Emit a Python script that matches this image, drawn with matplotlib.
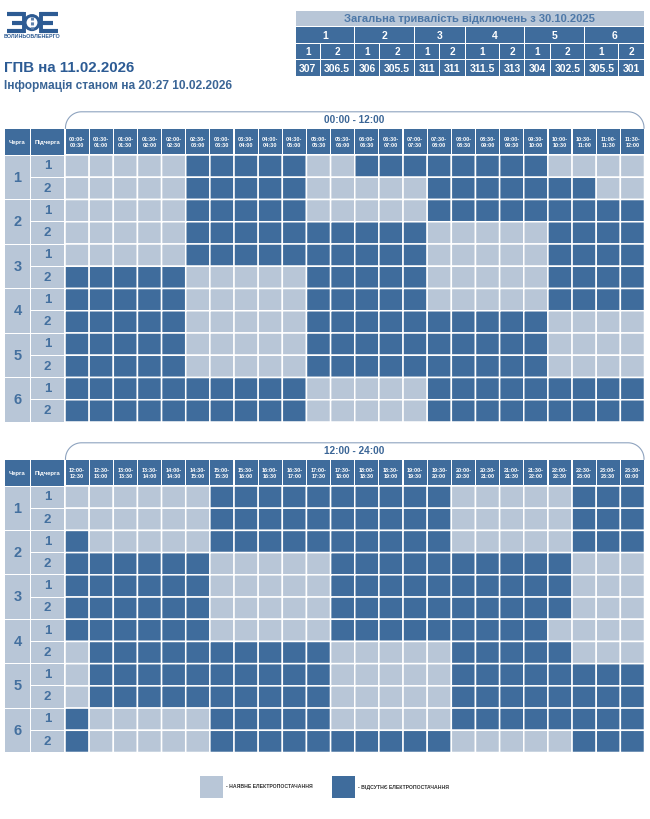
import matplotlib
matplotlib.use("Agg")
import numpy as np
import matplotlib.pyplot as plt
from matplotlib.colors import ListedColormap
from matplotlib.patches import Rectangle, Circle

plt.rcParams['font.family'] = ['Liberation Sans', 'DejaVu Sans']

DARK = '#3f6c9c'
LIGHT = '#b8c6d7'
TEXT = '#44709f'

# 0 = power on, 1 = power off, one string per subqueue, one digit per half hour
day_part1 = [
    "000001111100111111110000",
    "000001111100000111111100",
    "000001111100000111111111",
    "000001111111111000001111",
    "000001111111111000001111",
    "111110000011111000001111",
    "111110000011111000001111",
    "111110000011111111110000",
    "111110000011111111110000",
    "111110000011111111110000",
    "111111111100000111111111",
    "111111111100000111111111",
]
day_part2 = [
    "000000111111111100000111",
    "000000111111111100000111",
    "100000111111111100000111",
    "111111000001111111111000",
    "111111000001111111111000",
    "111111000001111111111000",
    "111111000001111111110000",
    "011111111110000011111000",
    "011111111110000011111111",
    "011111111110000011111111",
    "100000111110000011111111",
    "100000111111111100000111",
]

slots_part1 = ["00:00-\n00:30", "00:30-\n01:00", "01:00-\n01:30", "01:30-\n02:00", "02:00-\n02:30", "02:30-\n03:00",
               "03:00-\n03:30", "03:30-\n04:00", "04:00-\n04:30", "04:30-\n05:00", "05:00-\n05:30", "05:30-\n06:00",
               "06:00-\n06:30", "06:30-\n07:00", "07:00-\n07:30", "07:30-\n08:00", "08:00-\n08:30", "08:30-\n09:00",
               "09:00-\n09:30", "09:30-\n10:00", "10:00-\n10:30", "10:30-\n11:00", "11:00-\n11:30", "11:30-\n12:00"]
slots_part2 = ["12:00-\n12:30", "12:30-\n13:00", "13:00-\n13:30", "13:30-\n14:00", "14:00-\n14:30", "14:30-\n15:00",
               "15:00-\n15:30", "15:30-\n16:00", "16:00-\n16:30", "16:30-\n17:00", "17:00-\n17:30", "17:30-\n18:00",
               "18:00-\n18:30", "18:30-\n19:00", "19:00-\n19:30", "19:30-\n20:00", "20:00-\n20:30", "20:30-\n21:00",
               "21:00-\n21:30", "21:30-\n22:00", "22:00-\n22:30", "22:30-\n23:00", "23:00-\n23:30", "23:30-\n00:00"]

queues = ["1", "2", "3", "4", "5", "6"]
subqueues = ["1", "2"]
totals = ["307", "306.5", "306", "305.5", "311", "311", "311.5", "313", "304", "302.5", "305.5", "301"]

fig = plt.figure(figsize=(6.5, 8.19), dpi=100)
ax = fig.add_axes([0, 0, 1, 1])
ax.set_xlim(0, 650)
ax.set_ylim(819, 0)
ax.axis('off')


def box(x0, y0, x1, y1, color, label=None, size=8, tcolor='white', bold=True):
    ax.add_patch(Rectangle((x0, y0), x1 - x0, y1 - y0, fc=color, ec='none'))
    if label is not None:
        ax.text((x0 + x1) / 2, (y0 + y1) / 2 + 0.3, label, color=tcolor, fontsize=size,
                ha='center', va='center', fontweight='bold' if bold else 'normal', linespacing=1.25)


def draw_table(day, slots, title, top, head_bottom, bottom):
    # rounded bracket above the table
    bx0, bx1 = 65.5, 644
    by = top - 17.5
    r = 16
    t = np.linspace(0, np.pi / 2, 30)
    xs = np.r_[bx0 + r - r * np.cos(t), bx1 - r + r * np.sin(t)]
    ys = np.r_[by + r - r * np.sin(t), by + r - r * np.cos(t)]
    xs = np.r_[bx0, xs, bx1]
    ys = np.r_[top - 1, ys, top - 1]
    ax.plot(xs, ys, color='#8ea3bf', lw=0.8)
    ax.text(354.5, top - 9.5, title, color='#3a6596', fontsize=7.2, fontweight='bold', ha='center', va='center')

    # headers
    box(5.3, top, 29.6, head_bottom, DARK, "Черга", 4.2)
    box(31, top, 64.3, head_bottom, DARK, "Підчерга", 4.2)
    edges = np.linspace(65, 644.5, 25)
    for i, s in enumerate(slots):
        box(edges[i] + 0.6, top, edges[i + 1] - 0.6, head_bottom - 0.6, DARK, s, 4.0)

    # left columns, lined up with the rows of the schedule
    yedges = np.linspace(head_bottom, bottom, 13)
    for q, name in enumerate(queues):
        box(5.3, yedges[2 * q] + 0.5, 29.6, yedges[2 * q + 2] - 0.5, LIGHT, name, 10.5, TEXT)
        for s, sub in enumerate(subqueues):
            box(31, yedges[2 * q + s] + 0.5, 64.3, yedges[2 * q + s + 1] - 0.5, LIGHT, sub, 9.5, TEXT)

    # the schedule itself
    grid = np.array([[int(c) for c in row] for row in day])
    mesh = ax.pcolormesh(edges, yedges, grid, cmap=ListedColormap([LIGHT, DARK]), vmin=0, vmax=1,
                         edgecolors='white', linewidth=1.1, antialiased=True)
    mesh.set_snap(False)


# logo
logo = '#2d5b93'
for y in (14.2, 22.5, 31):
    ax.plot([7 if y != 22.5 else 12, 24], [y, y], color=logo, lw=3, solid_capstyle='butt')
    ax.plot([40, 58 if y != 22.5 else 53], [y, y], color=logo, lw=3, solid_capstyle='butt')
ax.plot([23.5, 23.5], [12.2, 33], color=logo, lw=2.8, solid_capstyle='butt')
ax.plot([40.5, 40.5], [12.2, 33], color=logo, lw=2.8, solid_capstyle='butt')
ax.add_patch(Circle((32, 22.6), 7, fc='white', ec=logo, lw=2.2))
ax.plot([32, 32], [17, 28.5], color='#5f82ad', lw=2.2, ls=(0, (1, 0.6)))
ax.text(32.3, 36, "ВОЛИНЬОБЛЕНЕРГО", color=logo, fontsize=3.9, fontweight='bold', ha='center', va='center')

# title
ax.text(4.5, 68, "ГПВ на 11.02.2026", color='#2c5b94', fontsize=10.8, fontweight='bold', ha='left', va='center')
ax.text(4.5, 85.5, "Інформація станом на 20:27 10.02.2026", color='#3a6596', fontsize=8.55, fontweight='bold',
        ha='left', va='center')

# totals table
sub_edges = [295.5, 320, 354.5, 379.8, 414.6, 439.5, 465.2, 499.6, 524.9, 550.2, 584.6, 618.6, 644.3]
box(295.5, 11, 644.3, 26.4, LIGHT, "Загальна тривалість відключень з 30.10.2025", 8, '#4d78a8')
for q, name in enumerate(queues):
    box(sub_edges[2 * q] + 0.5, 27.4, sub_edges[2 * q + 2] - 0.5, 43.4, DARK, name, 7.5)
for i in range(12):
    box(sub_edges[i] + 0.5, 44.4, sub_edges[i + 1] - 0.5, 59.4, DARK, subqueues[i % 2], 7.2)
    box(sub_edges[i] + 0.5, 60.4, sub_edges[i + 1] - 0.5, 76, DARK, totals[i], 7.5)

draw_table(day_part1, slots_part1, "00:00 - 12:00", 129.3, 155, 422)
draw_table(day_part2, slots_part2, "12:00 - 24:00", 460.3, 486, 752.5)

# legend
ax.add_patch(Rectangle((200, 776), 22.8, 22, fc=LIGHT, ec='none'))
ax.text(226, 787, "- НАЯВНЕ ЕЛЕКТРОПОСТАЧАННЯ", color='#333333', fontsize=3.7, fontweight='bold', ha='left', va='center')
ax.add_patch(Rectangle((332, 776), 22.8, 22, fc=DARK, ec='none'))
ax.text(357.5, 787, "- ВІДСУТНЄ ЕЛЕКТРОПОСТАЧАННЯ", color='#333333', fontsize=3.7, fontweight='bold', ha='left', va='center')

fig.savefig('out.png', dpi=100, facecolor='white')
